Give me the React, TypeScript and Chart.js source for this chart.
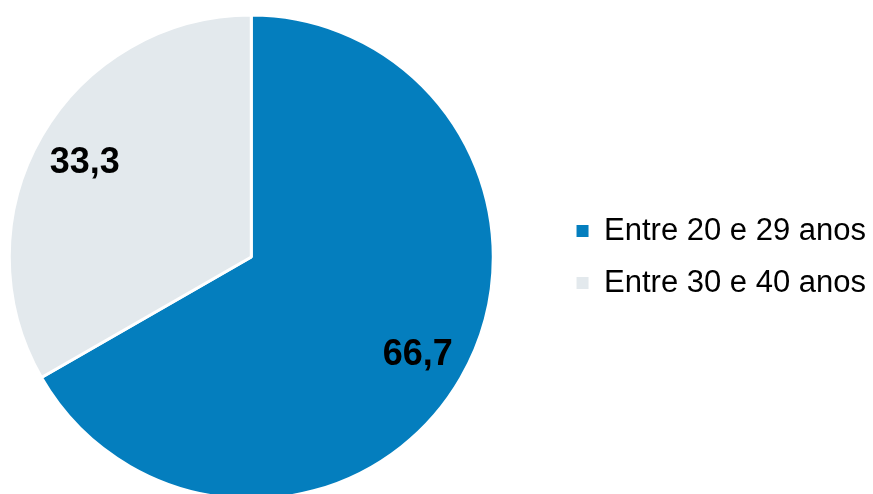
import React, { useEffect, useRef } from 'react';
import Chart from 'chart.js/auto';

const categories = ['Entre 20 e 29 anos', 'Entre 30 e 40 anos'];
const shares = [66.7, 33.3];
const sliceColors = ['#047EBE', '#E3E9ED'];

const FONT = "'Liberation Sans', Arial, Helvetica, sans-serif";

// draws the value of each slice inside it, a bit out from the middle
const sliceLabels = {
  id: 'sliceLabels',
  afterDatasetsDraw(chart: any) {
    const { ctx } = chart;
    const meta = chart.getDatasetMeta(0);
    const values = chart.data.datasets[0].data as number[];
    ctx.save();
    ctx.font = `bold 36px ${FONT}`;
    ctx.fillStyle = '#000000';
    ctx.textAlign = 'center';
    ctx.textBaseline = 'middle';
    meta.data.forEach((arc: any, i: number) => {
      const { x, y, startAngle, endAngle, outerRadius } = arc.getProps(
        ['x', 'y', 'startAngle', 'endAngle', 'outerRadius'],
        true
      );
      const mid = (startAngle + endAngle) / 2;
      const r = outerRadius * 0.795;
      const txt = values[i].toFixed(1).replace('.', ',');
      ctx.fillText(txt, x + Math.cos(mid) * r, y + Math.sin(mid) * r + 2);
    });
    ctx.restore();
  },
};

const App: React.FC = () => {
  const canvasRef = useRef<HTMLCanvasElement>(null);
  const chartInstance = useRef<any>(null);

  useEffect(() => {
    if (!canvasRef.current) return;
    if (chartInstance.current) chartInstance.current.destroy();

    const defaultLabels = Chart.overrides.pie.plugins.legend.labels.generateLabels;

    chartInstance.current = new Chart(canvasRef.current, {
      type: 'pie',
      data: {
        labels: categories,
        datasets: [
          {
            data: shares,
            backgroundColor: sliceColors,
            borderColor: '#ffffff',
            borderWidth: 3,
            hoverOffset: 0,
            clip: false as any,
          },
        ],
      },
      options: {
        animation: false,
        responsive: true,
        maintainAspectRatio: false,
        radius: 242,
        layout: { padding: { left: 0, right: 11, top: 20, bottom: 0 } },
        plugins: {
          tooltip: { enabled: false },
          legend: {
            position: 'right',
            labels: {
              boxWidth: 12,
              boxHeight: 12,
              padding: 21,
              color: '#000000',
              font: { family: FONT, size: 31 },
              // plain filled squares, without the white slice border
              generateLabels: (c: any) =>
                defaultLabels(c).map((item: any) => ({ ...item, lineWidth: 0 })),
            },
          },
        },
      } as any,
      plugins: [sliceLabels],
    });

    return () => {
      if (chartInstance.current) chartInstance.current.destroy();
      chartInstance.current = null;
    };
  }, []);

  return (
    <div style={{ position: 'fixed', left: 0, top: 0, width: 873, height: 494, overflow: 'hidden', background: '#ffffff' }}>
      <div style={{ position: 'absolute', left: -53, top: 0, width: 940, height: 494 }}>
        <canvas ref={canvasRef}></canvas>
      </div>
    </div>
  );
};

export default App;
